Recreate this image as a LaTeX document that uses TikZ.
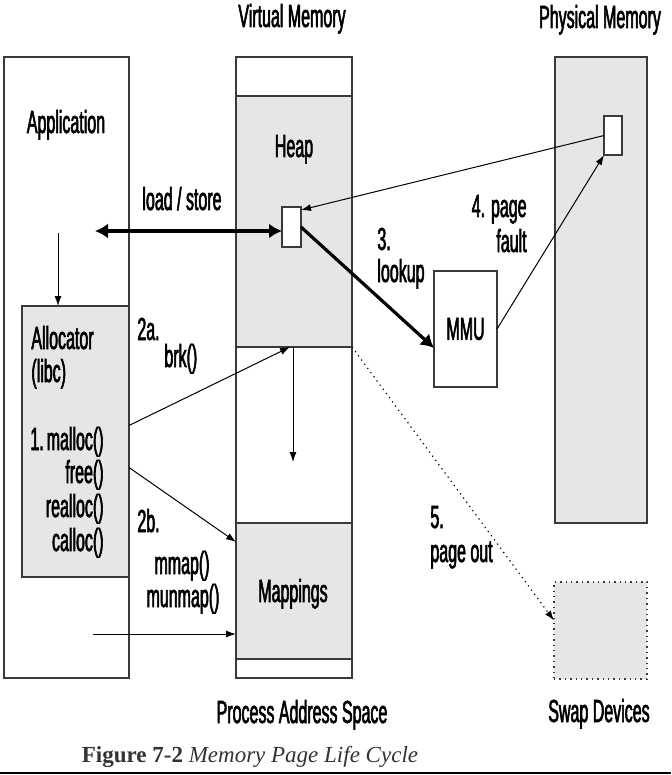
\documentclass[tikz,border=0pt]{standalone}
\usepackage{fontspec}
\setmainfont[FakeStretch=0.5,FakeBold=1.8]{Liberation Sans}
\newfontfamily\capfont{Liberation Serif}
\usetikzlibrary{arrows.meta}
\usetikzlibrary{calc}

\definecolor{boxgray}{HTML}{E6E6E6}
\definecolor{edgegray}{HTML}{3A3A3A}
\definecolor{capgray}{HTML}{333333}

\begin{document}
\begin{tikzpicture}[x=0.5pt,y=-0.5pt,
  font=\fontsize{16}{18}\selectfont,
  region/.style={draw=edgegray,line width=0.7pt,inner sep=0,outer sep=0},
  greybox/.style={region,fill=boxgray},
  pagebox/.style={region,fill=white,minimum width=9.5pt,minimum height=20pt},
  txt/.style={inner sep=0,anchor=base},
  thin arrow/.style={line width=0.5pt,-{Latex[length=5pt,width=3.5pt]}},
  thick arrow/.style={line width=1.6pt,-{Latex[length=6.5pt,width=7.5pt]}},
  thick both/.style={line width=1.6pt,{Latex[length=6.5pt,width=7.5pt]}-{Latex[length=6.5pt,width=7.5pt]}}]

  \useasboundingbox (0,0) rectangle (671,775);

  \node[region,fill=white,minimum width=62.5pt,minimum height=310.5pt] (app) at (66.5,367.5) {};
  \node[greybox,minimum width=53.5pt,minimum height=135.5pt] (alloc) at (75.5,441.5) {};

  \node[region,fill=white,minimum width=58pt,minimum height=310.5pt] (vm) at (294,367.5) {};
  \node[greybox,minimum width=58pt,minimum height=125.5pt] (heap) at (294,221.5) {};
  \node[greybox,minimum width=58pt,minimum height=68pt] (mappings) at (294,591) {};
  \node[pagebox] (vpage) at (291.5,227) {};

  \node[greybox,minimum width=46pt,minimum height=233pt] (phys) at (601,290) {};
  \node[pagebox,minimum width=9pt,minimum height=19.5pt] (ppage) at (613,135.5) {};
  \node[region,fill=white,minimum width=31.5pt,minimum height=58pt] (mmu) at (465.5,329) {MMU};
  \node[greybox,dotted,minimum width=46.5pt,minimum height=48.5pt] (swap) at (600.5,630.5) {};

  \node[txt] (vmtitle) at (292,27) {Virtual Memory};
  \node[txt] (pmtitle) at (600,28) {Physical Memory};
  \node[txt] (apptext) at (66,133) {Application};
  \node[txt] (heaptext) at (294,157) {Heap};
  \node[txt] (ldsttext) at (182,210) {load / store};
  \node[txt,anchor=base west] (lookupnum) at (377,250) {3.};
  \node[txt,anchor=base west] (lookuptext) at (377,282) {lookup};
  \node[txt,anchor=base east] (faultnum) at (527,217) {4. page};
  \node[txt,anchor=base east] (faulttext) at (527,252) {fault};
  \node[txt,anchor=base west] (alloctext) at (31,349) {Allocator};
  \node[txt,anchor=base west] (libctext) at (31,382) {(libc)};
  \node[txt,anchor=base west] (brknum) at (137,340) {2a.};
  \node[txt,anchor=base west] (brktext) at (164,367) {brk()};
  \node[txt,anchor=base west] (callnum) at (30,450) {1.};
  \node[txt,anchor=base east] (malloctext) at (104,450) {malloc()};
  \node[txt,anchor=base east] (freetext) at (104,483) {free()};
  \node[txt,anchor=base east] (realloctext) at (104,517) {realloc()};
  \node[txt,anchor=base east] (calloctext) at (104,551) {calloc()};
  \node[txt,anchor=base west] (mmapnum) at (137,532) {2b.};
  \node[txt] (mmaptext) at (182,574) {mmap()};
  \node[txt] (munmaptext) at (183,607) {munmap()};
  \node[txt] (maptext) at (293,602) {Mappings};
  \node[txt,anchor=base west] (outnum) at (430,528) {5.};
  \node[txt,anchor=base west] (outtext) at (430,562) {page out};
  \node[txt] (pastext) at (302,723) {Process Address Space};
  \node[txt] (swaptext) at (599,722) {Swap Devices};
  \node[txt,text=capgray,font=\capfont\fontsize{11.5}{13}\selectfont] (caption) at (250,762)
    {{\bfseries Figure 7-2} {\itshape Memory Page Life Cycle}};

  \coordinate (ldst) at (95,231);
  \coordinate (appdown) at (58,233);
  \coordinate (heapgrow) at (293,462);
  \coordinate (mapin) at (93,634);

  \draw[thick both] (ldst) -- (vpage.west |- ldst);
  \draw[thin arrow] (appdown) -- (appdown |- alloc.north);
  \draw[thick arrow] (vpage.east) -- ([yshift=-9.5pt]mmu.west);
  \draw[thin arrow] (ppage.west) -- ([yshift=-1.5pt]vpage.north east);
  \draw[thin arrow] (mmu.east) -- (ppage.south west);
  \draw[thin arrow] ([yshift=8pt]alloc.east) -- ([xshift=-2pt]heap.south);
  \draw[thin arrow] ([xshift=-0.5pt]heap.south) -- (heapgrow);
  \draw[thin arrow] ([yshift=-13pt]alloc.east) -- ([yshift=-9.5pt]mappings.north west);
  \draw[thin arrow] (mapin) -- (mapin -| mappings.west);
  \draw[dotted,line width=0.6pt,-{Latex[length=5pt,width=3.5pt]}] (heap.south east) -- ([yshift=5pt]swap.west);

  \draw[line width=1pt] (0,773) -- (671,773);
\end{tikzpicture}
\end{document}
